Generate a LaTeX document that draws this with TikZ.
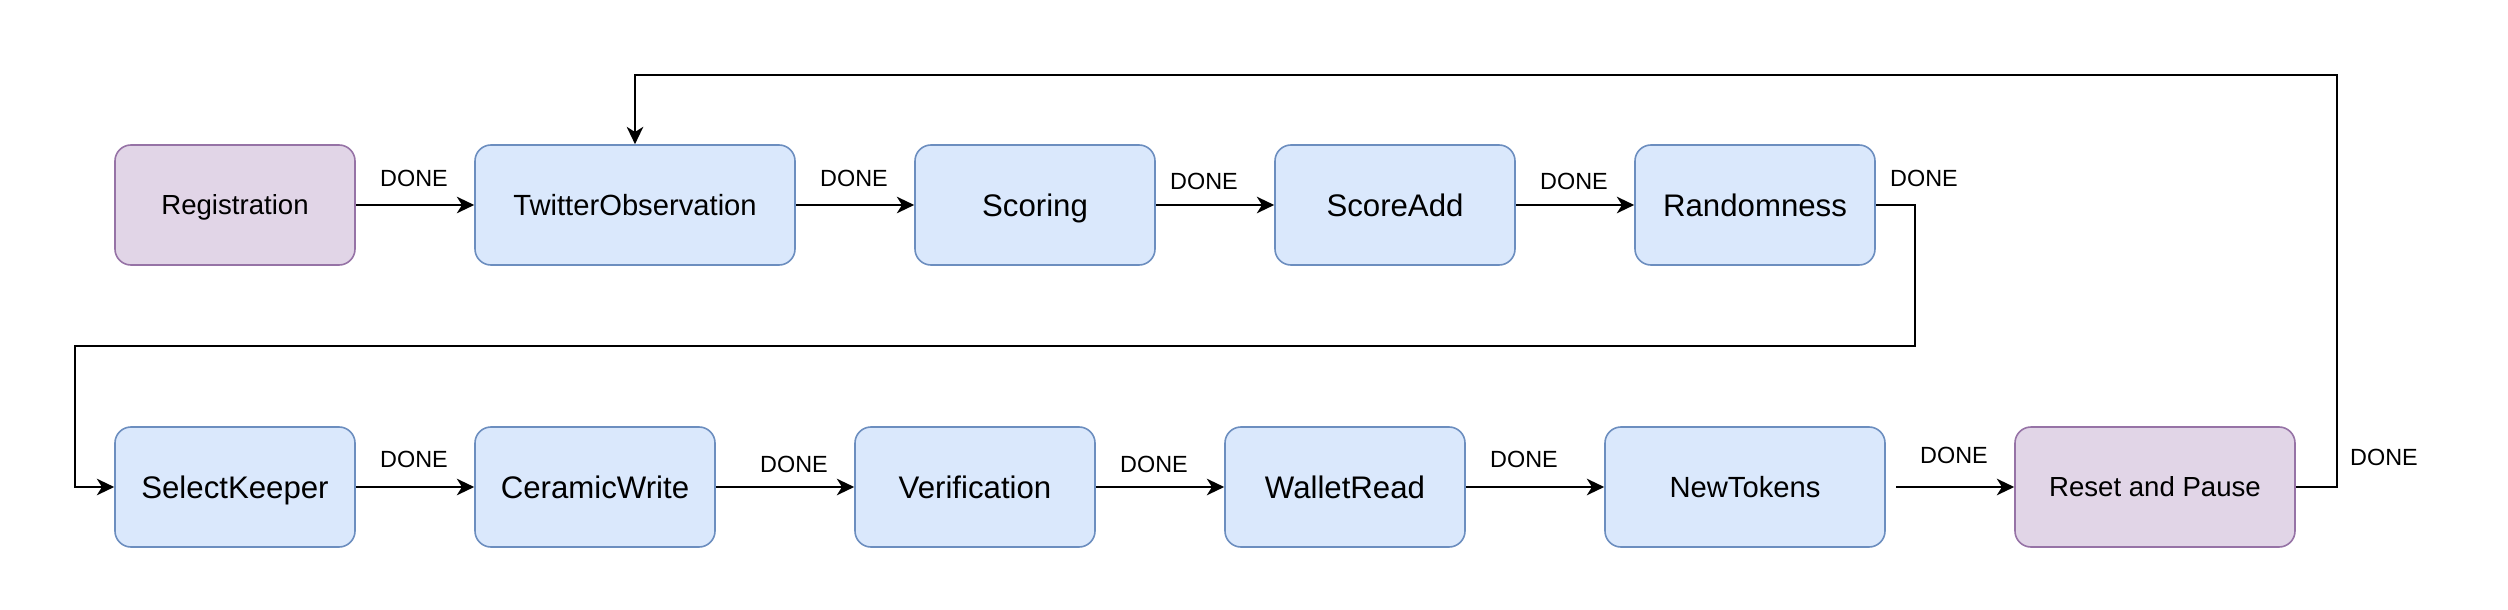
\documentclass[tikz,border=0pt]{standalone}
\usepackage{fontspec}
\setmainfont{Liberation Sans}
\usepackage{tikz}
\usetikzlibrary{arrows.meta}
\definecolor{bluefill}{HTML}{DAE8FC}
\definecolor{bluedraw}{HTML}{6C8EBF}
\definecolor{purplefill}{HTML}{E1D5E7}
\definecolor{purpledraw}{HTML}{9673A6}
\pgfdeclarelayer{nodelayer}
\pgfdeclarelayer{edgelayer}
\pgfsetlayers{edgelayer,nodelayer,main}
\tikzstyle{none}=[inner sep=0pt, font=\fontsize{11.7}{14}\selectfont, text height=8.4pt, text depth=0pt]
\tikzset{state/.style={rectangle, rounded corners=8pt, inner sep=0pt, minimum height=60pt, minimum width=120pt,
line width=0.8pt, anchor=center, font=\fontsize{15.6}{18}\selectfont, text height=11.2pt, text depth=0pt}}
\tikzset{blue state/.style={state, draw=bluedraw, fill=bluefill}}
\tikzset{purple state/.style={state, draw=purpledraw, fill=purplefill}}
\tikzset{mid text/.style={font=\fontsize{14.6}{17}\selectfont, text height=10.5pt}}
\tikzset{small text/.style={font=\fontsize{13.8}{16}\selectfont, text height=9.9pt}}
\tikzset{flow/.style={line width=0.8pt, -{Stealth[length=8.7pt, width=8.3pt, inset=2.6pt]}}}

\begin{document}
\begin{tikzpicture}[x=1pt, y=-1pt]
        \useasboundingbox (0, 0) rectangle (1254, 305);
        \begin{pgfonlayer}{nodelayer}
            \node [style=purple state, small text] (0) at (117.5, 102.5) {Registration};
            \node [style=blue state, mid text, minimum width=160pt] (1) at (317.5, 102.5) {TwitterObservation};
            \node [style=blue state] (2) at (517.5, 102.5) {Scoring};
            \node [style=blue state] (3) at (697.5, 102.5) {ScoreAdd};
            \node [style=blue state] (4) at (877.5, 102.5) {Randomness};
            \node [style=blue state] (5) at (117.5, 243.5) {SelectKeeper};
            \node [style=blue state] (6) at (297.5, 243.5) {CeramicWrite};
            \node [style=blue state] (7) at (487.5, 243.5) {Verification};
            \node [style=blue state] (8) at (672.5, 243.5) {WalletRead};
            \node [style=blue state, mid text, minimum width=140pt] (9) at (872.5, 243.5) {NewTokens};
            \node [style=purple state, small text, minimum width=140pt] (10) at (1077.5, 243.5) {Reset and Pause};
            \coordinate (11) at (957.5, 173);
            \coordinate (12) at (37.5, 173);
            \coordinate (13) at (1168.5, 37.5);
            \coordinate (14) at (317.5, 37.5);
            \coordinate (15) at (948, 243.5);
            \node [style=none] (16) at (207, 88.8) {DONE};
            \node [style=none] (17) at (427, 88.8) {DONE};
            \node [style=none] (18) at (602, 90.6) {DONE};
            \node [style=none] (19) at (787, 90.6) {DONE};
            \node [style=none] (20) at (962, 88.8) {DONE};
            \node [style=none] (21) at (207, 229.6) {DONE};
            \node [style=none] (22) at (397, 231.8) {DONE};
            \node [style=none] (23) at (577, 231.8) {DONE};
            \node [style=none] (24) at (762, 229.6) {DONE};
            \node [style=none] (25) at (977, 227.5) {DONE};
            \node [style=none] (26) at (1192, 228.6) {DONE};
        \end{pgfonlayer}
        \begin{pgfonlayer}{edgelayer}
            \draw [style=flow] (0) to (1);
            \draw [style=flow] (1) to (2);
            \draw [style=flow] (2) to (3);
            \draw [style=flow] (3) to (4);
            \draw [style=flow] (4) -| (11) -- (12) |- (5);
            \draw [style=flow] (5) to (6);
            \draw [style=flow] (6) to (7);
            \draw [style=flow] (7) to (8);
            \draw [style=flow] (8) to (9);
            \draw [style=flow] (15) to (10);
            \draw [style=flow] (10) -| (13) -- (14) -- (1);
        \end{pgfonlayer}
    \end{tikzpicture}
\end{document}
